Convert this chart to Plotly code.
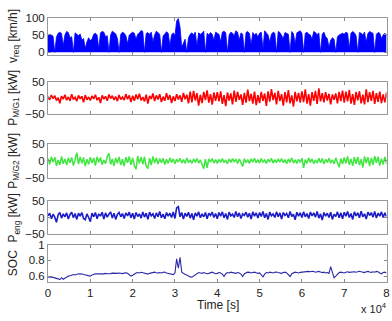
import numpy as np
import plotly.graph_objects as go

# time grid (s): 0 .. 80000, step 400
time_s = np.arange(0, 80001, 400)

v_req = [48, 52, 50, 46, 0, 44, 55, 58, 54, 20, 50, 60, 57, 42, 45, 0, 56, 52, 48, 53, 35, 40, 12, 30, 42,
         34, 38, 52, 55, 50, 10, 56, 60, 58, 45, 48, 0, 50, 61, 57, 53, 40, 0, 52, 58, 55, 48, 25, 50, 54,
         58, 55, 38, 52, 56, 63, 60, 0, 54, 57, 52, 58, 30, 50, 61, 56, 52, 0, 47, 53, 59, 55, 20, 50, 56,
         48, 90, 97, 72, 15, 30, 38, 0, 42, 52, 56, 50, 58, 18, 56, 52, 55, 61, 0, 55, 50, 57, 52, 35, 58,
         55, 52, 30, 58, 61, 56, 0, 50, 58, 55, 48, 62, 58, 35, 56, 52, 0, 57, 60, 54, 22, 57, 50, 55, 44,
         55, 58, 10, 62, 56, 50, 30, 52, 58, 55, 0, 60, 57, 50, 40, 57, 55, 52, 0, 60, 54, 25, 56, 58, 62,
         55, 0, 55, 58, 52, 50, 38, 60, 57, 50, 56, 0, 52, 58, 45, 40, 15, 35, 42, 38, 0, 45, 50, 52, 55,
         52, 58, 55, 10, 55, 60, 56, 48, 0, 57, 55, 50, 58, 30, 54, 60, 57, 55, 0, 52, 57, 55, 40, 50, 55, 48]

p_mg1 = [4, -6, 9, -2, 7, -8, 1, -17, 6, -4, 10, -7, 3, -9, 12, -5, 2, -10, 8, -3, 5, -14, 9, -6, 3,
         -8, 6, -3, 10, -7, 2, -16, 8, -4, 5, -9, 11, -2, 7, -6, 4, -10, 9, -5, 3, -7, 12, -4, 8, -13,
         7, -9, 11, -4, 13, -8, 3, -11, 10, -18, 6, -3, 14, -10, 8, -5, 12, -13, 4, -9, 15, -6, 9, -16, 5,
         -10, 12, -5, 8, -12, 16, -4, 10, -17, 20, -14, 22, -8, 15, -24, 10, -16, 19, -7, 24, -15, 12, -21, 17, -9,
         18, -11, 21, -19, 9, -26, 17, -8, 14, -20, 23, -12, 19, -6, 11, -22, 16, -15, 26, -10, 13, -18, 20, -23, 9,
         -16, 19, -9, 14, -25, 21, -12, 28, -7, 16, -20, 22, -10, 12, -24, 18, -14, 25, -17, 8, -27, 19, -11, 16, -15,
         21, -13, 27, -18, 12, -24, 18, -9, 22, -19, 30, -11, 15, -14, 18, -8, 13, -20, 11, -6, 14, -17, 19, -10, 23,
         -15, 20, -11, 25, -18, 12, -22, 19, -8, 21, -17, 10, -20, 27, -13, 18, -9, 22, -19, 15, -12, 20, -16, 11, -14, 17]

p_mg2 = [7, -10, 12, -4, 11, -14, 3, -11, 13, -8, 6, -12, 9, -5, 10, -13, 4, 24, -9, 12, -7, 10, -15, 5, -10,
         11, -6, 9, -13, 12, -4, 10, -11, 3, -8, 13, 22, -10, 6, -14, 9, -7, 12, -12, 5, -15, 11, -5, 13, -11,
         9, -13, -24, 14, -7, 11, -10, 12, -15, -22, 8, -12, 13, -6, 9, -9, 7, -5, 8, -10, 5, -7, 9, -4, 6,
         -8, 5, -3, 8, -6, 4, -7, 9, -5, 3, -7, 6, -4, 7, -6, 3, -8, -22, 5, -20, 6, -3, 7, -6, 4,
         -7, 5, -4, 7, -5, 3, -8, 6, -4, 7, -3, 5, -7, 6, -4, -16, 7, -5, 4, -7, 6, -3, 8, -5, 4,
         -6, 7, -4, 3, -7, 5, -3, 8, -6, 4, -5, 6, -3, 7, -5, 4, -8, 6, -4, 9, -6, 3, -7, 5, -4,
         8, -20, 4, -7, 9, -4, 6, -8, 3, -6, 8, -5, 7, -9, 5, -4, 8, -6, 3, -8, 9, -4, -18, 7, -9,
         10, -7, 13, -11, 6, -14, 11, -8, 12, -12, 5, -19, 13, -6, 11, -15, 9, -11, 14, -5, 12, -13, 7, -10, 12, -9]

p_eng = [6, 14, -3, 11, 2, -14, 9, 16, -1, 12, 3, 15, -4, 10, 17, 0, 13, -5, 14, 5, 16, -2, -6, 12, 1,
         -12, 14, 3, 16, -3, 12, 5, 17, -4, 15, 2, 11, 18, -1, 14, -5, 10, 16, 3, 13, -2, 15, 6, 17, 0,
         14, -4, 16, 4, 12, -1, 18, 2, 14, -5, 17, 6, 12, -2, 15, 3, 19, 0, 11, -3, 16, 5, 14, 1, 18,
         -2, 30, 34, 3, 16, -4, 14, 4, 17, -1, 13, -6, 15, 5, 18, 0, 12, 3, 16, -3, 14, 7, 17, 1, 13,
         -3, 16, 5, 18, 0, 13, -5, 17, 6, 11, 1, 19, 3, 15, -2, 12, 7, 17, 2, 14, -4, 18, 5, 15, -1,
         16, 4, 19, 0, 13, -5, 17, 6, 12, 1, 18, 3, 15, -4, 16, 7, 13, 0, 19, 4, 11, -6, 17, 5, 15,
         1, 18, 3, 13, -2, 17, 6, 15, 2, 19, -1, 12, -7, 16, 5, 14, 1, 17, -5, 11, 4, 18, 0, 15, -3,
         17, 5, 19, 1, 13, -5, 18, 6, 15, 0, 20, 3, 12, -4, 17, 7, 16, 2, 19, -1, 14, 5, 18, 1, 15, 4]

soc = [0.590, 0.585, 0.590, 0.585, 0.580, 0.575, 0.565, 0.555, 0.580, 0.560, 0.575, 0.590, 0.600, 0.605, 0.610, 0.620, 0.615, 0.625, 0.630, 0.625, 0.630, 0.620, 0.615, 0.610, 0.605,
       0.600, 0.615, 0.625, 0.630, 0.628, 0.632, 0.630, 0.625, 0.630, 0.635, 0.630, 0.628, 0.632, 0.638, 0.635, 0.630, 0.635, 0.640, 0.636, 0.632, 0.638, 0.642, 0.635, 0.620, 0.600,
       0.610, 0.630, 0.640, 0.645, 0.640, 0.648, 0.642, 0.638, 0.630, 0.625, 0.635, 0.640, 0.645, 0.650, 0.642, 0.638, 0.645, 0.640, 0.648, 0.652, 0.640, 0.635, 0.630, 0.625, 0.620,
       0.640, 0.820, 0.700, 0.840, 0.650, 0.630, 0.620, 0.615, 0.600, 0.590, 0.585, 0.600, 0.625, 0.640, 0.645, 0.640, 0.635, 0.645, 0.640, 0.630, 0.635, 0.645, 0.650, 0.640, 0.630,
       0.635, 0.645, 0.640, 0.625, 0.595, 0.630, 0.645, 0.640, 0.650, 0.645, 0.640, 0.635, 0.645, 0.640, 0.625, 0.595, 0.630, 0.645, 0.650, 0.648, 0.640, 0.645, 0.650, 0.642, 0.635,
       0.640, 0.620, 0.590, 0.625, 0.645, 0.640, 0.650, 0.645, 0.640, 0.648, 0.652, 0.645, 0.640, 0.635, 0.645, 0.650, 0.640, 0.610, 0.595, 0.630, 0.645, 0.650, 0.645, 0.640, 0.648,
       0.650, 0.655, 0.660, 0.665, 0.660, 0.655, 0.662, 0.658, 0.650, 0.655, 0.660, 0.652, 0.645, 0.650, 0.640, 0.645, 0.635, 0.720, 0.640, 0.580, 0.600, 0.630, 0.645, 0.650, 0.645,
       0.640, 0.650, 0.655, 0.648, 0.652, 0.660, 0.655, 0.650, 0.658, 0.662, 0.655, 0.650, 0.645, 0.655, 0.660, 0.652, 0.648, 0.655, 0.650, 0.660, 0.655, 0.640, 0.630, 0.645, 0.650, 0.640]

x_tick_vals = [0, 10000, 20000, 30000, 40000, 50000, 60000, 70000, 80000]
x_tick_text = ["0", "1", "2", "3", "4", "5", "6", "7", "8"]

y_labels = ["v<sub>req</sub> [km/h]", "P<sub>M/G1</sub> [kW]", "P<sub>M/G2</sub> [kW]",
            "P<sub>eng</sub> [kW]", "SOC"]

W, H = 392, 321
FONT = "Liberation Sans, Arial, sans-serif"

panels = [  # (top px, bottom px)
    (12, 50.7), (79, 112), (143, 179), (203, 237), (248, 286.7)]
y_ranges = [[-7, 100], [-50, 50], [-50, 50], [-50, 50], [0.525, 1.0]]
y_ticks = [[0, 50, 100], [-50, 0, 50], [-50, 0, 50], [-50, 0, 50], [0.6, 0.8, 1]]
y_ticktext = [["0", "50", "100"], ["−50", "0", "50"], ["−50", "0", "50"],
              ["−50", "0", "50"], ["0.6", "0.8", "1"]]

fig = go.Figure()

series = [v_req, p_mg1, p_mg2, p_eng, soc]
colors = ["#0000ff", "#ff0000", "#3ee83e", "#1c1cc8", "#2a2aa8"]
widths = [0.8, 1.6, 1.5, 1.6, 1.1]
for i, (vals, col) in enumerate(zip(series, colors)):
    sfx = "" if i == 0 else str(i + 1)
    kw = dict(x=time_s, y=vals, mode="lines", line=dict(color=col, width=widths[i]),
              xaxis="x" + sfx, yaxis="y" + sfx, showlegend=False, hoverinfo="skip")
    if i == 0:
        kw.update(fill="tozeroy", fillcolor=col)
    fig.add_trace(go.Scatter(**kw))

x_dom = [45.7 / W, 389.5 / W]
layout = dict(width=W, height=H, margin=dict(l=0, r=0, t=0, b=0),
              paper_bgcolor="white", plot_bgcolor="white",
              font=dict(family=FONT, size=11, color="#222"))
for i, (top, bot) in enumerate(panels):
    sfx = "" if i == 0 else str(i + 1)
    layout["xaxis" + sfx] = dict(
        domain=x_dom, range=[0, 80000], anchor="y" + sfx,
        tickvals=x_tick_vals, ticktext=x_tick_text, showticklabels=(i == 4),
        ticks="inside", ticklen=3, tickcolor="#888", mirror="ticks",
        showline=True, linecolor="#999", linewidth=1, showgrid=False, zeroline=False,
        tickfont=dict(size=11.5), ticklabeloverflow="allow")
    layout["yaxis" + sfx] = dict(
        domain=[(H - bot) / H, (H - top) / H], range=y_ranges[i], anchor="x" + sfx,
        tickvals=y_ticks[i], ticktext=y_ticktext[i],
        ticks="inside", ticklen=3, tickcolor="#888", mirror="ticks",
        showline=True, linecolor="#999", linewidth=1, showgrid=False, zeroline=False,
        tickfont=dict(size=11.5))
fig.update_layout(**layout)

annotations = []
for i, (top, bot) in enumerate(panels):
    annotations.append(dict(
        text=y_labels[i], x=11 / W, y=(H - (top + bot) / 2) / H, xref="paper", yref="paper",
        xanchor="center", yanchor="middle", textangle=-90, showarrow=False,
        font=dict(family=FONT, size=12, color="#222")))
annotations.append(dict(text="Time [s]", x=218 / W, y=(H - 311) / H, xref="paper", yref="paper",
                        xanchor="center", yanchor="middle", showarrow=False,
                        font=dict(family=FONT, size=12, color="#222")))
annotations.append(dict(text="x 10<sup>4</sup>", x=392 / W, y=(H - 314) / H, xref="paper",
                        yref="paper", xanchor="right", yanchor="middle", showarrow=False,
                        font=dict(family=FONT, size=11, color="#222")))
fig.update_layout(annotations=annotations)

fig.write_html("out.html")
